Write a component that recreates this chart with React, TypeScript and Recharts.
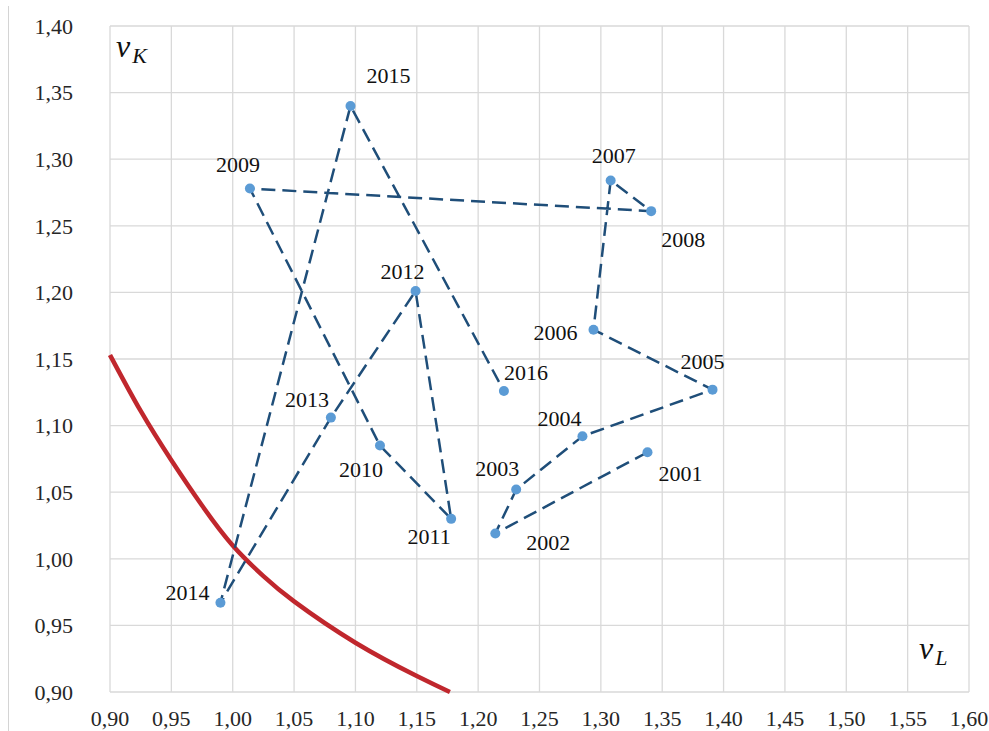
import React from 'react'
import { ScatterChart, Scatter, XAxis, YAxis, CartesianGrid } from 'recharts'

// years and coordinates (vL, vK)
const years = ['2001', '2002', '2003', '2004', '2005', '2006', '2007', '2008', '2009', '2010', '2011', '2012', '2013', '2014', '2015', '2016']
const vL = [1.338, 1.214, 1.231, 1.285, 1.391, 1.294, 1.308, 1.341, 1.014, 1.120, 1.178, 1.149, 1.080, 0.990, 1.096, 1.221]
const vK = [1.080, 1.019, 1.052, 1.092, 1.127, 1.172, 1.284, 1.261, 1.278, 1.085, 1.030, 1.201, 1.106, 0.967, 1.340, 1.126]

// red boundary curve, read at a few points
const curveL = [0.9, 0.925, 0.95, 0.975, 1.0, 1.025, 1.05, 1.1, 1.15, 1.177]
const curveK = [1.153, 1.111, 1.074, 1.040, 1.010, 0.987, 0.968, 0.937, 0.912, 0.9]

const xTicks = [0.9, 0.95, 1.0, 1.05, 1.1, 1.15, 1.2, 1.25, 1.3, 1.35, 1.4, 1.45, 1.5, 1.55, 1.6]
const yTicks = [0.9, 0.95, 1.0, 1.05, 1.1, 1.15, 1.2, 1.25, 1.3, 1.35, 1.4]

// where each year label sits relative to its marker (layout only)
const labelOffset: Record<string, [number, number]> = {
  '2001': [33, 21],
  '2002': [53, 9],
  '2003': [-19, -21],
  '2004': [-23, -18],
  '2005': [-10, -28],
  '2006': [-38, 3],
  '2007': [3, -25],
  '2008': [32, 28],
  '2009': [-12, -24],
  '2010': [-19, 24],
  '2011': [-22, 18],
  '2012': [-13, -20],
  '2013': [-24, -18],
  '2014': [-33, -10],
  '2015': [38, -30],
  '2016': [22, -18],
}

const points = years.map((y, i) => ({ year: y, x: vL[i], y: vK[i] }))
const curve = curveL.map((x, i) => ({ x, y: curveK[i] }))

const FONT = '"Liberation Serif", "Times New Roman", serif'
const fmt = (v: number) => v.toFixed(2).replace('.', ',')

const YearDot = (p: any) => {
  const [dx, dy] = labelOffset[p.payload.year] || [0, -20]
  return (
    <g>
      <circle cx={p.cx} cy={p.cy} r={5} fill="#5b9bd5" />
      <text
        x={p.cx + dx}
        y={p.cy + dy}
        textAnchor="middle"
        dominantBaseline="central"
        fontFamily={FONT}
        fontSize={22}
        fill="#111"
      >
        {p.payload.year}
      </text>
    </g>
  )
}

export default function App() {
  return (
    <div style={{ position: 'absolute', left: 0, top: 0, width: 989, height: 731, background: '#fff' }}>
      <div style={{ position: 'absolute', left: 8, top: 6, width: 1, height: 725, background: '#d4d4d4' }} />
      <ScatterChart width={989} height={731} margin={{ top: 26, right: 20, bottom: 0, left: 0 }}>
        <CartesianGrid stroke="#d9d9d9" strokeWidth={1.3} />
        <XAxis
          type="number"
          dataKey="x"
          domain={[0.9, 1.6]}
          ticks={xTicks}
          tickFormatter={fmt}
          axisLine={false}
          tickLine={false}
          tickSize={0}
          tickMargin={18}
          height={39}
          interval={0}
          tick={{ fontFamily: FONT, fontSize: 22, fill: '#262626' }}
        />
        <YAxis
          type="number"
          dataKey="y"
          domain={[0.9, 1.4]}
          ticks={yTicks}
          tickFormatter={fmt}
          axisLine={false}
          tickLine={false}
          tickSize={0}
          tickMargin={37}
          width={110}
          interval={0}
          tick={{ fontFamily: FONT, fontSize: 22, fill: '#262626' }}
        />
        <Scatter
          data={curve}
          line={{ stroke: '#c0272d', strokeWidth: 4.5 }}
          lineJointType="natural"
          shape={() => <g />}
          isAnimationActive={false}
        />
        <Scatter
          data={points}
          line={{ stroke: '#1f4e79', strokeWidth: 2.5, strokeDasharray: '14 7' }}
          lineType="joint"
          shape={YearDot}
          isAnimationActive={false}
        />
      </ScatterChart>
      <div style={{ position: 'absolute', left: 116, top: 28, fontFamily: FONT, fontStyle: 'italic', color: '#111', whiteSpace: 'nowrap' }}>
        <span style={{ fontSize: 32 }}>ν</span>
        <span style={{ fontSize: 22, position: 'relative', top: 6, marginLeft: 2 }}>K</span>
      </div>
      <div style={{ position: 'absolute', left: 919, top: 630, fontFamily: FONT, fontStyle: 'italic', color: '#111', whiteSpace: 'nowrap' }}>
        <span style={{ fontSize: 32 }}>ν</span>
        <span style={{ fontSize: 22, position: 'relative', top: 6, marginLeft: 2 }}>L</span>
      </div>
    </div>
  )
}
